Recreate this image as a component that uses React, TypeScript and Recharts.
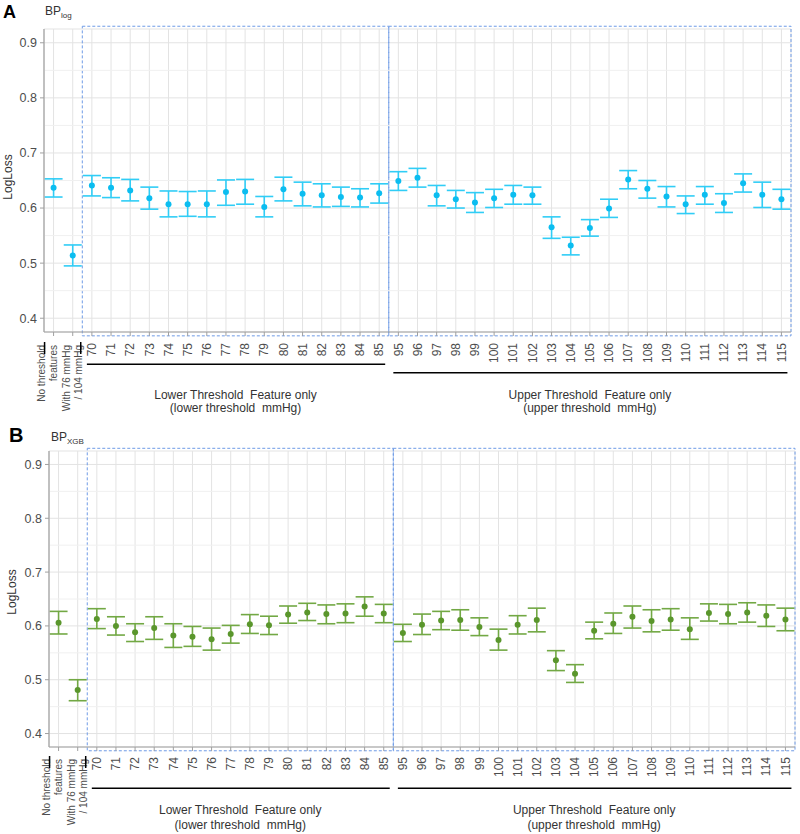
import React from 'react';
import {
  ComposedChart,
  Line,
  XAxis,
  YAxis,
  CartesianGrid,
  ErrorBar,
  ReferenceArea,
  ReferenceLine,
} from 'recharts';

// ---------- categories ----------
const baselineLabels = ['No threshold\nfeatures', 'With 76 mmHg\n/ 104 mmHg'];
const lowerThresholds = ['70', '71', '72', '73', '74', '75', '76', '77', '78', '79', '80', '81', '82', '83', '84', '85'];
const upperThresholds = ['95', '96', '97', '98', '99', '100', '101', '102', '103', '104', '105', '106', '107', '108', '109', '110', '111', '112', '113', '114', '115'];
const categories = [...baselineLabels, ...lowerThresholds, ...upperThresholds];

// ---------- panel A: BP_log ----------
const logMean = [0.637, 0.514, 0.641, 0.637, 0.632, 0.618, 0.607, 0.607, 0.607, 0.629, 0.630, 0.602, 0.634, 0.626, 0.623, 0.620, 0.619, 0.627,
  0.649, 0.655, 0.623, 0.616, 0.610, 0.618, 0.624, 0.623, 0.565, 0.532, 0.564, 0.599, 0.652, 0.635, 0.621, 0.607, 0.624, 0.609, 0.645, 0.624, 0.616];
const logLow = [0.620, 0.495, 0.622, 0.619, 0.613, 0.598, 0.584, 0.585, 0.584, 0.605, 0.607, 0.584, 0.613, 0.604, 0.602, 0.603, 0.602, 0.609,
  0.632, 0.638, 0.604, 0.600, 0.592, 0.601, 0.607, 0.607, 0.545, 0.515, 0.549, 0.583, 0.635, 0.618, 0.602, 0.590, 0.607, 0.592, 0.629, 0.601, 0.598];
const logHigh = [0.653, 0.533, 0.659, 0.655, 0.652, 0.638, 0.631, 0.630, 0.631, 0.651, 0.652, 0.621, 0.656, 0.647, 0.644, 0.638, 0.635, 0.644,
  0.666, 0.672, 0.641, 0.632, 0.628, 0.634, 0.641, 0.638, 0.584, 0.547, 0.579, 0.616, 0.668, 0.650, 0.639, 0.622, 0.639, 0.626, 0.662, 0.647, 0.634];

// ---------- panel B: BP_XGB ----------
const xgbMean = [0.606, 0.481, 0.613, 0.600, 0.588, 0.596, 0.582, 0.580, 0.575, 0.585, 0.603, 0.601, 0.621, 0.625, 0.622, 0.623, 0.636, 0.623,
  0.587, 0.602, 0.610, 0.611, 0.598, 0.574, 0.602, 0.611, 0.536, 0.511, 0.591, 0.604, 0.617, 0.609, 0.612, 0.594, 0.624, 0.622, 0.625, 0.619, 0.612];
const xgbLow = [0.585, 0.461, 0.595, 0.583, 0.571, 0.575, 0.560, 0.562, 0.555, 0.568, 0.586, 0.584, 0.605, 0.610, 0.604, 0.606, 0.618, 0.606,
  0.571, 0.584, 0.593, 0.592, 0.582, 0.555, 0.585, 0.589, 0.517, 0.495, 0.576, 0.586, 0.596, 0.589, 0.592, 0.575, 0.609, 0.604, 0.607, 0.599, 0.591];
const xgbHigh = [0.627, 0.500, 0.632, 0.617, 0.604, 0.617, 0.604, 0.599, 0.596, 0.601, 0.621, 0.618, 0.637, 0.642, 0.639, 0.641, 0.654, 0.640,
  0.603, 0.622, 0.627, 0.630, 0.615, 0.594, 0.619, 0.633, 0.554, 0.528, 0.607, 0.624, 0.637, 0.630, 0.632, 0.615, 0.641, 0.640, 0.643, 0.639, 0.633];

// ---------- axis ticks / text ----------
const yTicks = [0.4, 0.5, 0.6, 0.7, 0.8, 0.9];
const yMinorTicks = [0.45, 0.55, 0.65, 0.75, 0.85];
const yDomain: [number, number] = [0.375, 0.925];
const lowerGroupTitle = ['Lower Threshold  Feature only', '(lower threshold  mmHg)'];
const upperGroupTitle = ['Upper Threshold  Feature only', '(upper threshold  mmHg)'];
const yAxisTitle = 'LogLoss';

const FONT = '"Liberation Sans", Arial, Helvetica, sans-serif';
const TEXT = '#4d4d4d';

const CatTick = (props: any) => {
  const { x, y, payload, index } = props;
  const lines = String(payload.value).split('\n');
  if (lines.length === 1) {
    return (
      <text x={x} y={y} dy="0.35em" textAnchor="end" fontSize={12} fill={TEXT}
        transform={`rotate(-90, ${x}, ${y})`}>{payload.value}</text>
    );
  }
  const shift = index === 0 ? -6 : 0;
  const markX = index === 0 ? x - 9 : x + 8;
  return (
    <g>
      {lines.map((l, i) => {
        const cx = x + shift + (i - (lines.length - 1) / 2) * 12;
        return (
          <text key={i} x={cx} y={y + 2} dy="0.35em" textAnchor="end" fontSize={10} fill={TEXT}
            style={{ whiteSpace: 'pre' }}
            transform={`rotate(-90, ${cx}, ${y + 2})`}>{l}</text>
        );
      })}
      <line x1={markX} x2={markX} y1={y - 1} y2={y + 11} stroke="#000" strokeWidth={1.5} />
    </g>
  );
};

const ExtLine = (p: any) => (
  <line x1={p.x1 - 5} y1={p.y1} x2={p.x2 + 6} y2={p.y2} stroke="#000" strokeWidth={1.5} />
);

const GroupLabel = (props: any) => {
  const { viewBox, lines, gap } = props;
  if (!viewBox) return null;
  const cx = viewBox.x + (viewBox.width || 0) / 2;
  const cy = viewBox.y;
  return (
    <g>
      {lines.map((l: string, i: number) => (
        <text key={i} x={cx} y={cy + i * gap} dy="0.35em" textAnchor="middle" fontSize={12} fill="#333"
          style={{ whiteSpace: 'pre' }}>{l}</text>
      ))}
    </g>
  );
};

type Geom = {
  height: number; top: number; left: number; right: number; xAxisHeight: number; tickMargin: number;
  lowerLineY: number; upperLineY: number; labelY: number; labelGap: number;
};

function Panel({ means, lows, highs, dotColor, barColor, geom }: any) {
  const g: Geom = geom;
  const data = categories.map((c, i) => ({ cat: c, mean: means[i], err: [means[i] - lows[i], highs[i] - means[i]] }));
  const boxStroke = '#6f9be6';
  return (
    <ComposedChart width={800} height={g.height} data={data}
      margin={{ top: g.top, right: g.right, left: g.left, bottom: 0 }}>
      <CartesianGrid stroke="#e3e3e3" strokeWidth={1} />
      {yMinorTicks.map((v) => (
        <ReferenceLine key={v} y={v} stroke="#f0f0f0" strokeWidth={1} ifOverflow="visible" />
      ))}
      <XAxis dataKey="cat" scale="band" interval={0} height={g.xAxisHeight} tick={(p: any) => <CatTick {...p} />}
        tickSize={4} tickMargin={g.tickMargin} axisLine={{ stroke: '#a0a0a0', strokeWidth: 1.2 }} tickLine={{ stroke: '#a0a0a0' }} />
      <YAxis domain={yDomain} ticks={yTicks} width={30} tickSize={4} tickMargin={3} allowDataOverflow
        tickFormatter={(v: number) => v.toFixed(1)} tick={{ fontSize: 12.5, fill: TEXT }}
        axisLine={{ stroke: '#a0a0a0', strokeWidth: 1.2 }} tickLine={{ stroke: '#a0a0a0' }} />
      <ReferenceArea x1="70" x2="85" y1={0.368} y2={0.93} ifOverflow="visible" fill="none" fillOpacity={0}
        stroke={boxStroke} strokeDasharray="3 2" strokeWidth={1} />
      <ReferenceArea x1="95" x2="115" y1={0.368} y2={0.93} ifOverflow="visible" fill="none" fillOpacity={0}
        stroke={boxStroke} strokeDasharray="3 2" strokeWidth={1} />
      <ReferenceLine segment={[{ x: '70', y: g.lowerLineY }, { x: '85', y: g.lowerLineY }]} ifOverflow="visible"
        shape={(p: any) => <ExtLine {...p} />} />
      <ReferenceLine segment={[{ x: '95', y: g.upperLineY }, { x: '115', y: g.upperLineY }]} ifOverflow="visible"
        shape={(p: any) => <ExtLine {...p} />} />
      <ReferenceLine segment={[{ x: '70', y: g.labelY }, { x: '85', y: g.labelY }]} ifOverflow="visible" stroke="none"
        label={<GroupLabel lines={lowerGroupTitle} gap={g.labelGap} />} />
      <ReferenceLine segment={[{ x: '95', y: g.labelY }, { x: '115', y: g.labelY }]} ifOverflow="visible" stroke="none"
        label={<GroupLabel lines={upperGroupTitle} gap={g.labelGap} />} />
      <Line dataKey="mean" stroke="none" isAnimationActive={false} activeDot={false}
        dot={{ r: 3, fill: dotColor, stroke: 'none' }}>
        <ErrorBar dataKey="err" width={9} stroke={barColor} strokeWidth={1.6} direction="y" isAnimationActive={false} />
      </Line>
    </ComposedChart>
  );
}

const geomA: Geom = { height: 415, top: 29, left: 14, right: 9, xAxisHeight: 83, tickMargin: 7,
  lowerLineY: 0.3164, upperLineY: 0.3011, labelY: 0.2606, labelGap: 13 };
const geomB: Geom = { height: 419, top: 36, left: 19, right: 5, xAxisHeight: 87, tickMargin: 6,
  lowerLineY: 0.2983, upperLineY: 0.2983, labelY: 0.2592, labelGap: 15 };

export default function App() {
  return (
    <div style={{ position: 'absolute', left: 0, top: 0, width: 800, height: 834, background: '#fff', fontFamily: FONT, overflow: 'hidden' }}>
      {/* Panel A */}
      <div style={{ position: 'absolute', left: 0, top: 0, width: 800, height: 415 }}>
        <Panel means={logMean} lows={logLow} highs={logHigh} dotColor="#0bbdf0" barColor="#30cdf6" geom={geomA} />
        <div style={{ position: 'absolute', left: 3, top: 3, fontSize: 18, lineHeight: '18px', fontWeight: 'bold', color: '#000' }}>A</div>
        <div style={{ position: 'absolute', left: 45, top: 5, fontSize: 12, lineHeight: '12px', color: '#333', whiteSpace: 'nowrap' }}>
          BP<sub style={{ fontSize: 8, verticalAlign: '-3px' }}>log</sub>
        </div>
        <div style={{ position: 'absolute', left: 8, top: 177, transform: 'translate(-50%, -50%) rotate(-90deg)', fontSize: 12, color: '#333', whiteSpace: 'nowrap' }}>{yAxisTitle}</div>
      </div>
      {/* Panel B */}
      <div style={{ position: 'absolute', left: 0, top: 415, width: 800, height: 419 }}>
        <Panel means={xgbMean} lows={xgbLow} highs={xgbHigh} dotColor="#5a962c" barColor="#72a844" geom={geomB} />
        <div style={{ position: 'absolute', left: 9, top: 10, fontSize: 20, lineHeight: '20px', fontWeight: 'bold', color: '#000' }}>B</div>
        <div style={{ position: 'absolute', left: 51, top: 16, fontSize: 12, lineHeight: '12px', color: '#333', whiteSpace: 'nowrap' }}>
          BP<sub style={{ fontSize: 8, verticalAlign: '-3px' }}>XGB</sub>
        </div>
        <div style={{ position: 'absolute', left: 12, top: 177, transform: 'translate(-50%, -50%) rotate(-90deg)', fontSize: 12, color: '#333', whiteSpace: 'nowrap' }}>{yAxisTitle}</div>
      </div>
    </div>
  );
}
